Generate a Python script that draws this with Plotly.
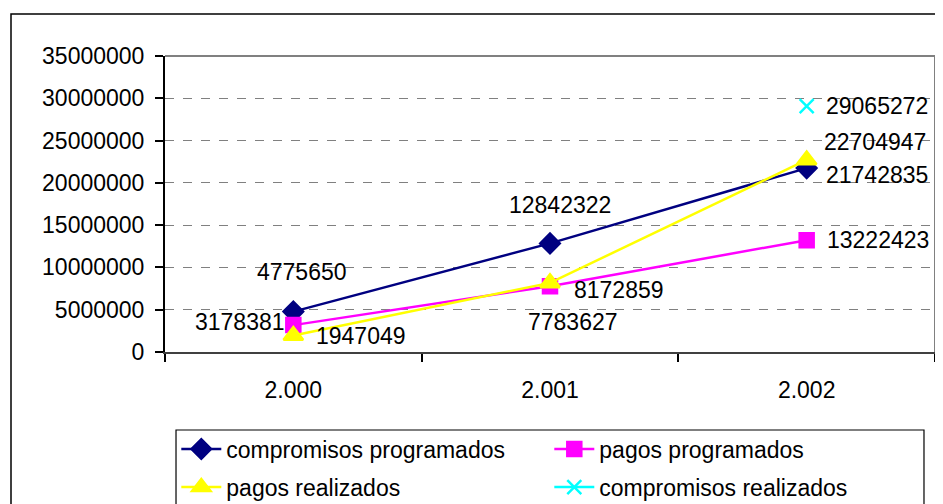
import plotly.graph_objects as go

years = ["2.000", "2.001", "2.002"]
comp_prog = [4775650, 12842322, 21742835]
pagos_prog = [3178381, 7783627, 13222423]
pagos_real = [1947049, 8172859, 22704947]
comp_real = [None, None, 29065272]

FONT = "Liberation Sans, Arial, sans-serif"
FS = 23

series = [
    ("compromisos programados", comp_prog, "#000080", "diamond", 15, "legend"),
    ("pagos programados", pagos_prog, "#FF00FF", "square", 14, "legend"),
    ("pagos realizados", pagos_real, "#FFFF00", "triangle-up", 17, "legend2"),
    ("compromisos realizados", comp_real, "#00FFFF", "x-thin-open", 14, "legend2"),
]

# label placement per point: (xanchor, xshift, yshift)
label_pos = [
    [("center", 9, 40), ("center", 10, 38), ("left", 17, -7)],
    [("right", -6, 3), ("center", 23, -36), ("left", 18, 0)],
    [("left", 21, 0), ("left", 22, -7), ("left", 15, 18)],
    [None, None, ("left", 17, 0)],
]

fig = go.Figure()
annotations = []
for (name, vals, color, sym, size, leg), pos in zip(series, label_pos):
    fig.add_trace(go.Scatter(
        x=years, y=vals, name=name, legend=leg,
        mode="lines+markers",
        line=dict(color=color, width=2.5),
        marker=dict(symbol=sym, size=size, color=color,
                    line=dict(color=color, width=2.5)),
        connectgaps=False,
    ))
    for i, (v, p) in enumerate(zip(vals, pos)):
        if v is None or p is None:
            continue
        annotations.append(dict(
            x=i, y=v, xref="x", yref="y", text=str(v), showarrow=False,
            xanchor=p[0], yanchor="middle", xshift=p[1], yshift=p[2],
            font=dict(family=FONT, size=FS, color="black"),
        ))

legend_common = dict(
    orientation="h", xanchor="left", yanchor="middle",
    xref="container", yref="container",
    font=dict(family=FONT, size=FS, color="black"),
    bgcolor="rgba(0,0,0,0)", borderwidth=0,
    entrywidth=318, entrywidthmode="pixels",
    itemwidth=40, tracegroupgap=0,
)

fig.update_layout(
    width=935, height=496,
    margin=dict(l=157, r=8, t=48, b=152, autoexpand=False),
    paper_bgcolor="white", plot_bgcolor="white",
    font=dict(family=FONT, size=FS, color="black"),
    showlegend=True,
    legend=dict(x=0.180, y=0.111, **legend_common),
    legend2=dict(x=0.180, y=0.034, **legend_common),
    annotations=annotations,
    xaxis=dict(
        type="category", range=[-0.5, 2.5],
        showgrid=False, tickson="boundaries",
        ticks="outside", ticklen=8, tickcolor="black", tickwidth=1.5,
        showline=True, linecolor="#404040", linewidth=2,
        ticklabelstandoff=16,
        tickfont=dict(family=FONT, size=FS, color="black"),
    ),
    yaxis=dict(
        range=[0, 35000000], dtick=5000000, tickformat="d",
        showgrid=True, gridcolor="#808080", griddash="dash", gridwidth=1,
        zeroline=False,
        ticks="outside", ticklen=8, tickcolor="black", tickwidth=1.5,
        showline=True, linecolor="black", linewidth=2,
        ticklabelstandoff=6,
        tickfont=dict(family=FONT, size=FS, color="black"),
    ),
    shapes=[
        # plot area border (top / right)
        dict(type="line", xref="paper", yref="paper", x0=0, x1=1, y0=1, y1=1,
             line=dict(color="#808080", width=2)),
        dict(type="line", xref="paper", yref="paper", x0=1, x1=1, y0=0, y1=1,
             line=dict(color="#808080", width=2)),
        # chart outer border
        dict(type="rect", xref="paper", yref="paper",
             x0=-0.2, x1=1.05, y0=-0.6, y1=1.142,
             line=dict(color="black", width=1.5)),
        # legend box
        dict(type="rect", xref="paper", yref="paper",
             x0=0.0143, x1=0.9857, y0=-0.6, y1=-0.2635,
             line=dict(color="black", width=1.2)),
    ],
)

fig.write_html("out.html")
